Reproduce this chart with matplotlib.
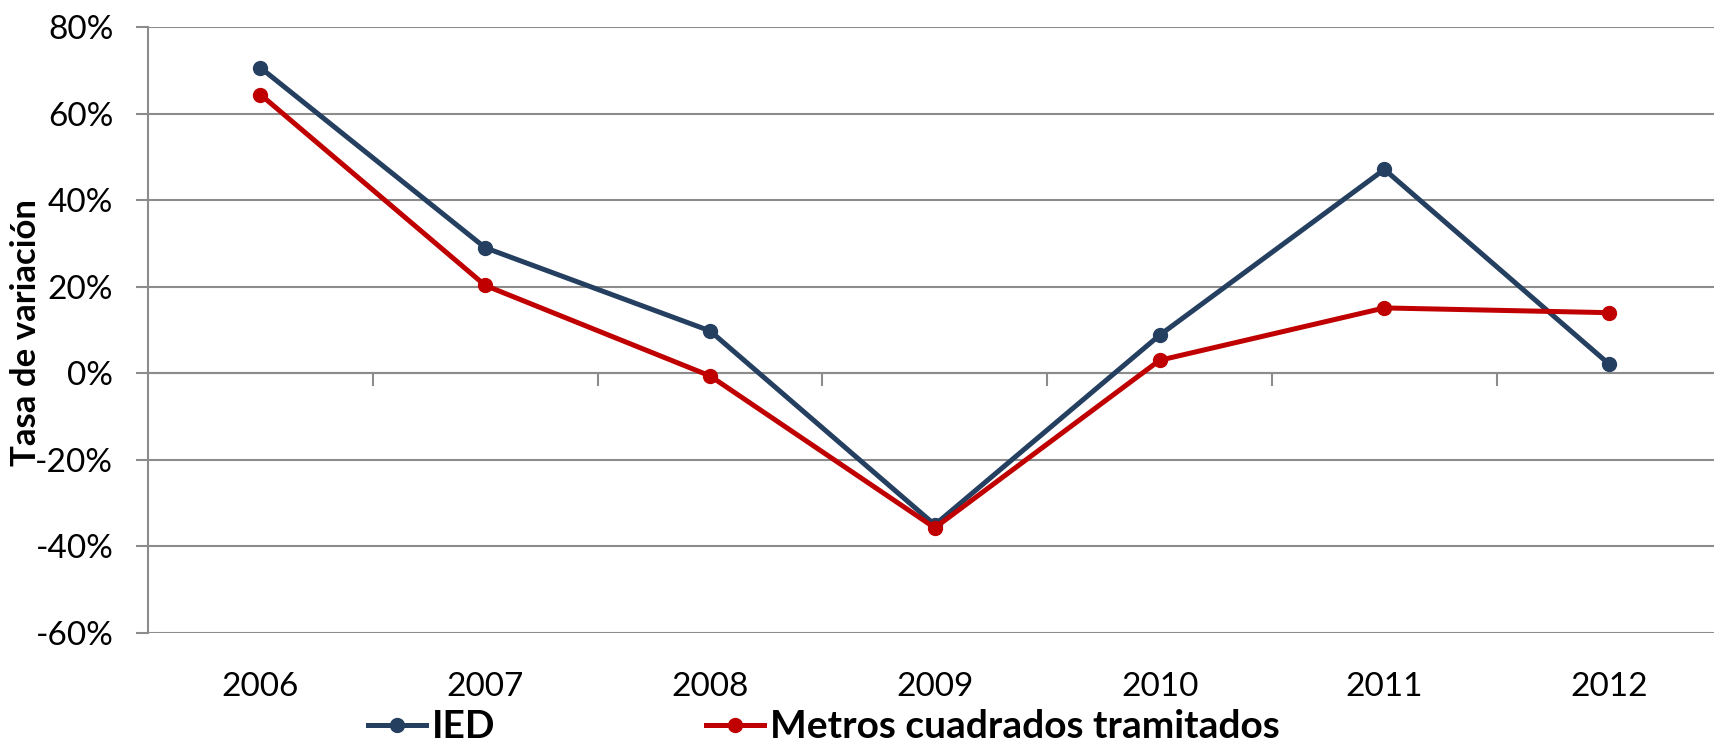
import matplotlib
matplotlib.use("Agg")
import matplotlib.pyplot as plt
from matplotlib.ticker import PercentFormatter

plt.rcParams['font.family'] = ['Lato', 'DejaVu Sans']
plt.rcParams['axes.unicode_minus'] = False

years = ["2006", "2007", "2008", "2009", "2010", "2011", "2012"]
ied = [70.6, 29.0, 9.8, -35.0, 8.8, 47.1, 2.1]
metros = [64.4, 20.3, -0.6, -35.7, 3.0, 15.1, 14.0]
y_ticks = [-60, -40, -20, 0, 20, 40, 60, 80]

grid_col = "#8c8c8c"
ied_col = "#243f60"
met_col = "#c00000"

fig = plt.figure(figsize=(17.14, 7.49), dpi=100)
# plot area runs past the right edge, as in the original
ax = fig.add_axes([148/1714, 1 - 633/749, 7*224.8/1714, 606/749])

x = list(range(len(years)))
ax.plot(x, ied, color=ied_col, lw=3.6, marker="o", ms=10, label="IED", zorder=3)
ax.plot(x, metros, color=met_col, lw=3.6, marker="o", ms=10,
        label="Metros cuadrados tramitados", zorder=3)

ax.set_xlim(-0.5, len(years) - 0.5)
ax.set_ylim(-60, 80)
ax.set_yticks(y_ticks)
ax.yaxis.set_major_formatter(PercentFormatter(decimals=0))
ax.grid(axis="y", color=grid_col, lw=1.5)
ax.set_axisbelow(True)

for s in ["top", "right", "bottom"]:
    ax.spines[s].set_visible(False)
ax.spines["left"].set_color(grid_col)
ax.spines["left"].set_linewidth(1.5)

ax.tick_params(axis="y", length=9, width=1.5, color=grid_col, labelsize=24, pad=16)
ax.set_xticks(x)
ax.set_xticklabels(years)
ax.tick_params(axis="x", length=0, labelsize=24, pad=28)

# axis line at 0% with ticks between categories
zero_pos = (0 - (-60)) / 140
sec = ax.secondary_xaxis(zero_pos)
sec.set_xticks([i + 0.5 for i in range(len(years) - 1)])
sec.set_xticklabels([])
sec.tick_params(axis="x", length=9, width=1.5, color=grid_col, direction="out")
sec.spines["bottom"].set_color(grid_col)
sec.spines["bottom"].set_linewidth(1.5)

ax.set_ylabel("Tasa de variación", fontsize=25, fontweight="bold")
ax.yaxis.set_label_coords(42/1714, 1 - 332/749, transform=fig.transFigure)

# two legend entries placed separately, like the Excel legend
handles, labels = ax.get_legend_handles_labels()
starts = [368/1714, 706/1714]
for h, lab, x0 in zip(handles, labels, starts):
    leg = fig.legend([h], [lab], loc="center left", bbox_to_anchor=(x0, 1 - 727/749),
                     frameon=False, prop={"size": 28, "weight": "bold"},
                     handlelength=1.5, handletextpad=0.15, borderpad=0, borderaxespad=0)

fig.savefig("out.png", dpi=100)
